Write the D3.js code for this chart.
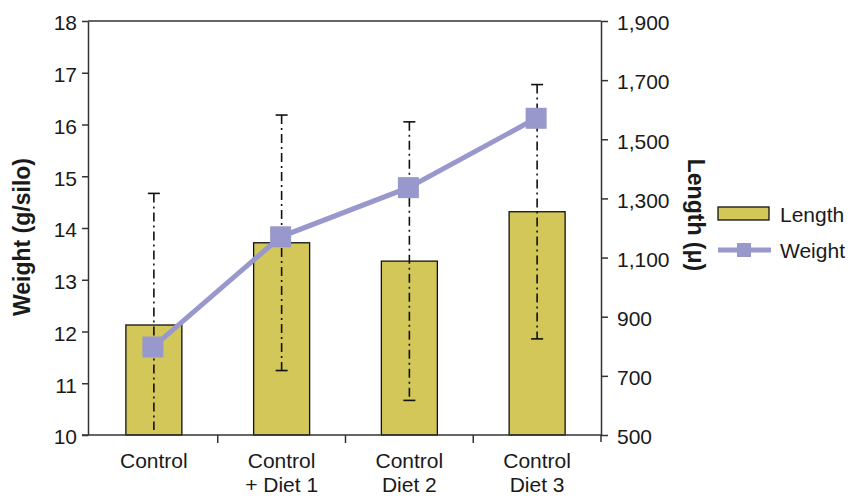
<!DOCTYPE html>
<html>
<head>
<meta charset="utf-8">
<script src="https://cdn.jsdelivr.net/npm/d3@7"></script>
<style>
  body { margin: 0; background: #fff; }
  svg text { font-family: "Liberation Sans", Arial, sans-serif; fill: #1a1a1a; }
</style>
</head>
<body>
<svg id="chart" width="852" height="496"></svg>
<script>
// categories (two text lines each)
const categories = ['Control', 'Control\n+ Diet 1', 'Control\nDiet 2', 'Control\nDiet 3'];
// bars: Length on the right axis, with +/- error
const lengthValues = [872, 1150, 1088, 1255];
const lengthErrors = [445, 432, 471, 430];
// line: Weight on the left axis
const weightValues = [11.7, 13.83, 14.78, 16.12];
// tick labels
const weightTicks = [10, 11, 12, 13, 14, 15, 16, 17, 18];
const lengthTicks = [500, 700, 900, 1100, 1300, 1500, 1700, 1900];

const barColor = '#d4c75a';
const lineColor = '#9898cc';

const svg = d3.select('#chart');
const plotLeft = 88, plotRight = 601, plotTop = 21, plotBottom = 435;

const x = d3.scaleBand()
    .domain(categories)
    .range([90, plotRight])
    .padding(0);

const yW = d3.scaleLinear().domain([10, 18]).range([plotBottom, plotTop]);
const yL = d3.scaleLinear().domain([500, 1900]).range([plotBottom, plotTop]);

// top border of the frame
svg.append('line')
    .attr('x1', plotLeft).attr('x2', plotRight)
    .attr('y1', plotTop).attr('y2', plotTop)
    .attr('stroke', '#333').attr('stroke-width', 1.5);

// bars
const barW = 56;
svg.selectAll('rect.bar')
    .data(categories)
    .enter()
    .append('rect')
    .attr('class', 'bar')
    .attr('x', d => x(d) + x.bandwidth() / 2 - barW / 2)
    .attr('y', (d, i) => yL(lengthValues[i]))
    .attr('width', barW)
    .attr('height', (d, i) => plotBottom - yL(lengthValues[i]))
    .attr('fill', barColor)
    .attr('stroke', '#111')
    .attr('stroke-width', 1.3);

// error bars (dash-dot), clipped to the axis range
categories.forEach((c, i) => {
    const cx = x(c) + x.bandwidth() / 2;
    const hi = lengthValues[i] + lengthErrors[i];
    const lo = lengthValues[i] - lengthErrors[i];
    const loC = Math.max(lo, 500);
    svg.append('line')
        .attr('x1', cx).attr('x2', cx)
        .attr('y1', yL(hi)).attr('y2', yL(loC) - (lo < 500 ? 5 : 0))
        .attr('stroke', '#111').attr('stroke-width', 1.6)
        .attr('stroke-dasharray', '9,4,2,4');
    svg.append('line')
        .attr('x1', cx - 6).attr('x2', cx + 6)
        .attr('y1', yL(hi)).attr('y2', yL(hi))
        .attr('stroke', '#111').attr('stroke-width', 1.6);
    if (lo >= 500) {
        svg.append('line')
            .attr('x1', cx - 6).attr('x2', cx + 6)
            .attr('y1', yL(lo)).attr('y2', yL(lo))
            .attr('stroke', '#111').attr('stroke-width', 1.6);
    }
});

// weight line
const line = d3.line()
    .x((d, i) => x(categories[i]) + x.bandwidth() / 2 - 1)
    .y(d => yW(d));

svg.append('path')
    .datum(weightValues)
    .attr('d', line)
    .attr('fill', 'none')
    .attr('stroke', lineColor)
    .attr('stroke-width', 5);

svg.selectAll('rect.marker')
    .data(weightValues)
    .enter()
    .append('rect')
    .attr('class', 'marker')
    .attr('x', (d, i) => x(categories[i]) + x.bandwidth() / 2 - 1 - 10.5)
    .attr('y', d => yW(d) - 10.5)
    .attr('width', 21)
    .attr('height', 21)
    .attr('fill', lineColor);

// axes
const axisStyle = g => {
    g.selectAll('path').attr('stroke', '#333').attr('stroke-width', 1.5);
    g.selectAll('line').attr('stroke', '#333').attr('stroke-width', 1.5);
    g.selectAll('text').attr('font-size', '21px').attr('fill', '#1a1a1a').attr('dy', '0.42em')
        .style('font-family', '"Liberation Sans", Arial, sans-serif');
};

svg.append('g')
    .attr('transform', `translate(${plotLeft},0)`)
    .call(d3.axisLeft(yW).tickValues(weightTicks).tickSize(6).tickSizeOuter(0).tickPadding(5))
    .call(axisStyle);

svg.append('g')
    .attr('transform', `translate(${plotRight},0)`)
    .call(d3.axisRight(yL).tickValues(lengthTicks).tickSize(7).tickSizeOuter(0).tickPadding(9)
        .tickFormat(d3.format(',')))
    .call(axisStyle);

// extend right axis a little below the baseline
svg.append('line')
    .attr('x1', plotRight).attr('x2', plotRight)
    .attr('y1', plotBottom).attr('y2', plotBottom + 7)
    .attr('stroke', '#333').attr('stroke-width', 1.5);

// x axis baseline and ticks between categories
svg.append('line')
    .attr('x1', plotLeft - 6).attr('x2', plotRight)
    .attr('y1', plotBottom).attr('y2', plotBottom)
    .attr('stroke', '#333').attr('stroke-width', 1.5);

svg.selectAll('line.xtick')
    .data(categories.slice(1))
    .enter()
    .append('line')
    .attr('class', 'xtick')
    .attr('x1', d => x(d)).attr('x2', d => x(d))
    .attr('y1', plotBottom).attr('y2', plotBottom + 8)
    .attr('stroke', '#333').attr('stroke-width', 1.5);

// category labels
categories.forEach(c => {
    const t = svg.append('text')
        .attr('x', x(c) + x.bandwidth() / 2)
        .attr('y', 468)
        .attr('text-anchor', 'middle')
        .attr('font-size', '21px');
    c.split('\n').forEach((part, j) => {
        t.append('tspan')
            .attr('x', x(c) + x.bandwidth() / 2)
            .attr('dy', j === 0 ? 0 : 24)
            .text(part);
    });
});

// axis titles
svg.append('text')
    .attr('transform', 'translate(30,237) rotate(-90)')
    .attr('text-anchor', 'middle')
    .attr('font-size', '23px')
    .attr('font-weight', 'bold')
    .text('Weight (g/silo)');

svg.append('text')
    .attr('transform', 'translate(688,215) rotate(90)')
    .attr('text-anchor', 'middle')
    .attr('font-size', '23px')
    .attr('font-weight', 'bold')
    .text('Length (μ)');

// legend
svg.append('rect')
    .attr('x', 718).attr('y', 207)
    .attr('width', 51).attr('height', 13)
    .attr('fill', barColor)
    .attr('stroke', '#111').attr('stroke-width', 1.3);
svg.append('text')
    .attr('x', 780).attr('y', 222)
    .attr('font-size', '21px')
    .text('Length');

svg.append('line')
    .attr('x1', 718).attr('x2', 771)
    .attr('y1', 250).attr('y2', 250)
    .attr('stroke', lineColor).attr('stroke-width', 5);
svg.append('rect')
    .attr('x', 737).attr('y', 243)
    .attr('width', 14).attr('height', 14)
    .attr('fill', lineColor);
svg.append('text')
    .attr('x', 780).attr('y', 258)
    .attr('font-size', '21px')
    .text('Weight');
</script>
</body>
</html>
